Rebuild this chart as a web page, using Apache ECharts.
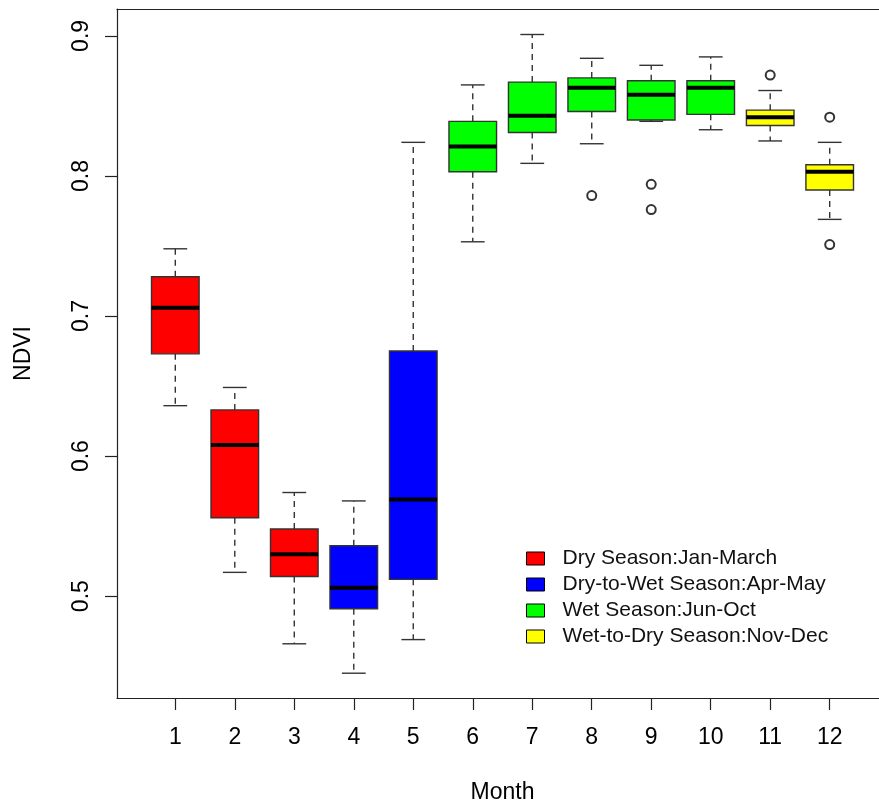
<!DOCTYPE html>
<html>
<head>
<meta charset="utf-8">
<title>Monthly NDVI</title>
<script src="https://cdn.jsdelivr.net/npm/echarts@6/dist/echarts.min.js"></script>
<style>
  html, body { margin: 0; padding: 0; background: #fff; }
  #chart { width: 879px; height: 807px; }
</style>
</head>
<body>
<div id="chart"></div>
<script>
// Monthly NDVI box statistics (lower whisker, Q1, median, Q3, upper whisker)
const months      = [1, 2, 3, 4, 5, 6, 7, 8, 9, 10, 11, 12];
const whiskerLow  = [0.636, 0.517, 0.466, 0.445, 0.469, 0.753, 0.809, 0.823, 0.839, 0.833, 0.825, 0.769];
const quartile1   = [0.673, 0.556, 0.514, 0.491, 0.512, 0.803, 0.831, 0.846, 0.840, 0.844, 0.836, 0.790];
const medians     = [0.706, 0.608, 0.530, 0.506, 0.569, 0.821, 0.843, 0.863, 0.858, 0.863, 0.842, 0.803];
const quartile3   = [0.728, 0.633, 0.548, 0.536, 0.675, 0.839, 0.867, 0.870, 0.868, 0.868, 0.847, 0.808];
const whiskerHigh = [0.748, 0.649, 0.574, 0.568, 0.824, 0.865, 0.901, 0.884, 0.879, 0.885, 0.861, 0.824];

// Points beyond the whiskers
const outlierMonths = [8, 9, 9, 11, 12, 12];
const outlierValues = [0.786, 0.794, 0.776, 0.872, 0.842, 0.751];

// Seasons and the months that belong to each
const seasonNames  = ['Dry Season:Jan-March', 'Dry-to-Wet Season:Apr-May', 'Wet Season:Jun-Oct', 'Wet-to-Dry Season:Nov-Dec'];
const seasonColors = ['#FF0000', '#0000FF', '#00FF00', '#FFFF00'];
const seasonMonths = [[1, 2, 3], [4, 5], [6, 7, 8, 9, 10], [11, 12]];

// Axis ticks
const xTicks = [1, 2, 3, 4, 5, 6, 7, 8, 9, 10, 11, 12];
const yTicks = [0.5, 0.6, 0.7, 0.8, 0.9];

const FONT = "'Liberation Sans', Arial, sans-serif";
const BOX_WIDTH = 0.8;   // in month units
const CAP_WIDTH = 0.4;
const X_MIN = 0.02, X_MAX = 12.98;
const FRAME = { color: '#222', width: 1.2 };

function renderBox(params, api) {
  const x = api.value(0);
  const pLow = api.coord([x, api.value(1)]);
  const pQ1 = api.coord([x, api.value(2)]);
  const pMed = api.coord([x, api.value(3)]);
  const pQ3 = api.coord([x, api.value(4)]);
  const pHigh = api.coord([x, api.value(5)]);
  const half = api.size([BOX_WIDTH, 0])[0] / 2;
  const cap = api.size([CAP_WIDTH, 0])[0] / 2;
  const cx = pMed[0];
  const fill = api.visual('color');
  const whiskerStyle = { stroke: '#333', lineWidth: 1.4, lineDash: [6, 5] };
  const capStyle = { stroke: '#333', lineWidth: 1.4 };
  return {
    type: 'group',
    children: [
      { type: 'line', shape: { x1: cx, y1: pQ3[1], x2: cx, y2: pHigh[1] }, style: whiskerStyle },
      { type: 'line', shape: { x1: cx, y1: pQ1[1], x2: cx, y2: pLow[1] }, style: whiskerStyle },
      { type: 'line', shape: { x1: cx - cap, y1: pHigh[1], x2: cx + cap, y2: pHigh[1] }, style: capStyle },
      { type: 'line', shape: { x1: cx - cap, y1: pLow[1], x2: cx + cap, y2: pLow[1] }, style: capStyle },
      { type: 'rect', shape: { x: cx - half, y: pQ3[1], width: 2 * half, height: pQ1[1] - pQ3[1] },
        style: { fill: fill, stroke: '#333', lineWidth: 1.4 } },
      { type: 'line', shape: { x1: cx - half, y1: pMed[1], x2: cx + half, y2: pMed[1] },
        style: { stroke: '#000', lineWidth: 4 } }
    ]
  };
}

const boxSeries = seasonNames.map(function (name, s) {
  const data = seasonMonths[s].map(function (m) {
    const i = months.indexOf(m);
    return [m, whiskerLow[i], quartile1[i], medians[i], quartile3[i], whiskerHigh[i]];
  });
  return {
    name: name,
    type: 'custom',
    renderItem: renderBox,
    itemStyle: { color: seasonColors[s] },
    encode: { x: 0, y: [1, 2, 3, 4, 5] },
    data: data,
    clip: false
  };
});

const outlierSeries = {
  name: 'outliers',
  type: 'scatter',
  symbol: 'emptyCircle',
  symbolSize: 9,
  itemStyle: { color: '#000', borderColor: '#000', borderWidth: 1 },
  data: outlierMonths.map(function (m, i) { return [m, outlierValues[i]]; })
};

const chart = echarts.init(document.getElementById('chart'), null, { renderer: 'canvas' });
chart.setOption({
  backgroundColor: '#fff',
  animation: false,
  textStyle: { fontFamily: FONT, color: '#000' },
  grid: {
    left: 117, top: 9, width: 771, height: 689,
    outerBoundsMode: 'none',
    containLabel: false,
    show: false
  },
  legend: {
    orient: 'vertical',
    left: 526, top: 548,
    data: seasonNames,
    icon: 'rect',
    itemWidth: 18, itemHeight: 13, itemGap: 5,
    padding: 0,
    itemStyle: { borderColor: '#000', borderWidth: 1 },
    textStyle: { fontFamily: FONT, fontSize: 21, color: '#111', padding: [0, 0, 0, 13] },
    selectedMode: false
  },
  xAxis: [{
    type: 'value',
    min: X_MIN, max: X_MAX,
    name: 'Month',
    nameLocation: 'middle',
    nameGap: 83,
    nameTextStyle: { fontFamily: FONT, fontSize: 23, color: '#000' },
    splitLine: { show: false },
    axisLine: { show: true, onZero: false, lineStyle: FRAME },
    axisTick: { show: true, length: 12, lineStyle: FRAME, customValues: xTicks },
    axisLabel: { fontFamily: FONT, fontSize: 23, color: '#000', margin: 28, customValues: xTicks,
      formatter: function (v) { return String(v); } }
  }, {
    // top edge of the plot frame
    type: 'value',
    position: 'top',
    min: X_MIN, max: X_MAX,
    splitLine: { show: false },
    axisLine: { show: true, onZero: false, lineStyle: FRAME },
    axisTick: { show: false },
    axisLabel: { show: false }
  }],
  yAxis: {
    type: 'value',
    min: 0.4273, max: 0.9192,
    name: 'NDVI',
    nameLocation: 'middle',
    nameGap: 82,
    nameRotate: 90,
    nameTextStyle: { fontFamily: FONT, fontSize: 23, color: '#000' },
    splitLine: { show: false },
    axisLine: { show: true, onZero: false, lineStyle: FRAME },
    axisTick: { show: true, length: 12, lineStyle: FRAME, customValues: yTicks },
    axisLabel: { fontFamily: FONT, fontSize: 23, color: '#000', margin: 24, rotate: 90, customValues: yTicks,
      formatter: function (v) { return v.toFixed(1); } }
  },
  series: boxSeries.concat([outlierSeries])
});
</script>
</body>
</html>
